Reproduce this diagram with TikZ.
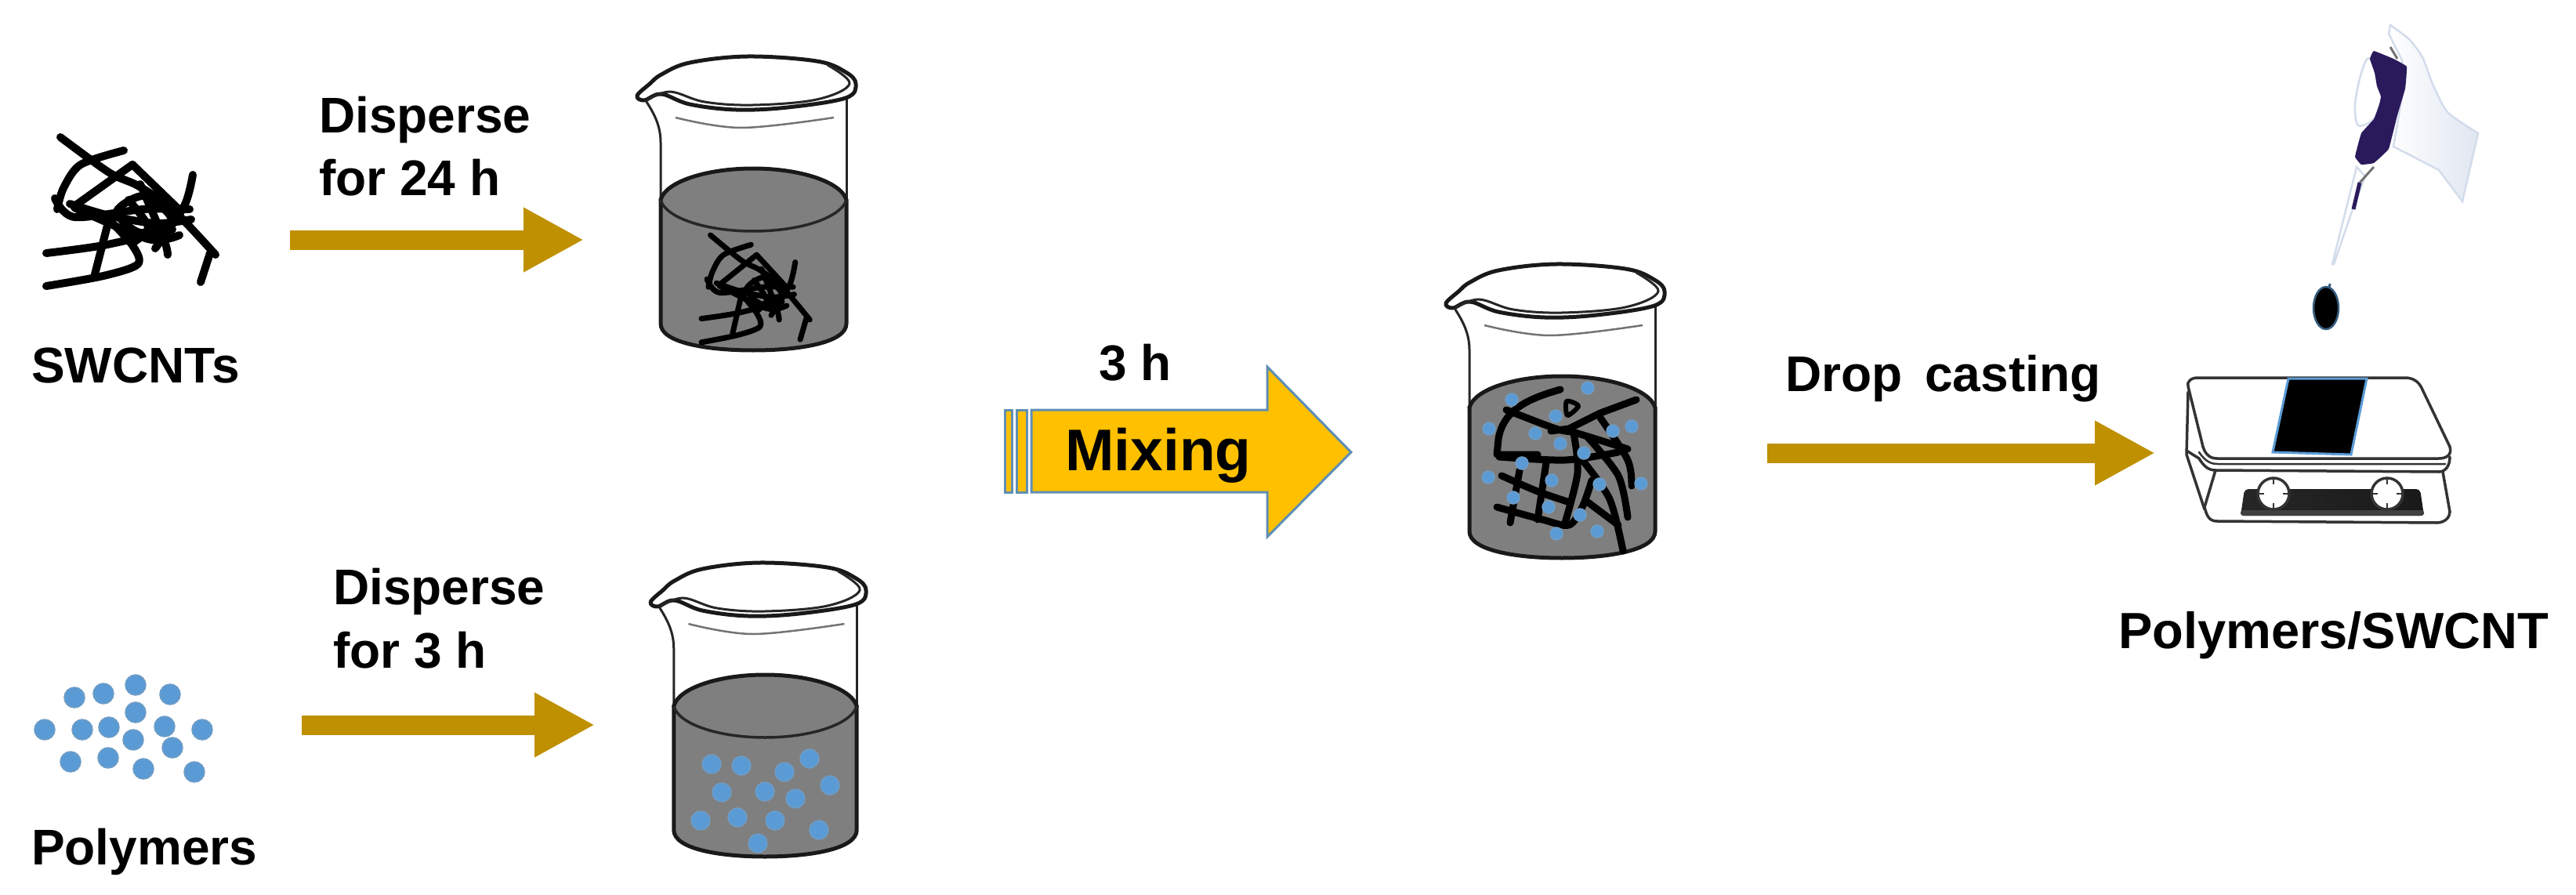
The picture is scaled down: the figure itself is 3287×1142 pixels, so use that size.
\documentclass[tikz,border=0pt]{standalone}
\usepackage{fontspec}
\setmainfont{Liberation Sans}
\usetikzlibrary{arrows.meta,positioning,calc}
\definecolor{flowgold}{HTML}{BF9000}
\definecolor{mixgold}{HTML}{FFC000}
\definecolor{mixedge}{HTML}{5F8FB4}
\definecolor{beadblue}{HTML}{5B9BD5}
\definecolor{beadedge}{HTML}{6F9CC4}
\definecolor{liquidgray}{HTML}{7F7F7F}
\definecolor{gripnavy}{HTML}{2A1A5C}
\definecolor{gloveedge}{HTML}{D3DCEB}
\tikzstyle{steptext}=[inner sep=0pt, anchor=base west, align=left, font=\bfseries\fontsize{64}{81}\selectfont]
\tikzstyle{mixtext}=[inner sep=0pt, anchor=base west, font=\bfseries\fontsize{75}{80}\selectfont]
\tikzstyle{flow}=[line width=25pt, flowgold, -{Triangle[length=77pt,width=77pt]}]
\tikzstyle{glass}=[line width=5pt, black!90, line cap=round, line join=round]
\tikzstyle{thinglass}=[line width=3pt, black!85, line cap=round]
\tikzstyle{tube}=[line width=9pt, black, line cap=round, line join=round]
\tikzstyle{bead}=[fill=beadblue, draw=beadedge, line width=1.5pt]
\tikzstyle{plate}=[line width=3.5pt, black!80, line cap=round, line join=round]
\tikzset{
  pics/beaker/.style={code={
    \fill[liquidgray] (-118,183) -- (-118,341) .. controls (-118,365) and (-60,375) .. (0,375)
      .. controls (60,375) and (119,365) .. (119,341) -- (119,183) -- cycle;
    \fill[liquidgray] (0,183) ellipse[x radius=118,y radius=40];
    \draw[thinglass] (-136,58) .. controls (-125,75) and (-118,90) .. (-118,110) -- (-118,183);
    \draw[thinglass] (119,45) -- (119,183);
    \draw[glass] (-118,183) .. controls (-112,160) and (-60,143) .. (0,143)
      .. controls (60,143) and (112,160) .. (119,183);
    \draw[glass] (-118,183) -- (-118,341) .. controls (-118,365) and (-60,375) .. (0,375)
      .. controls (60,375) and (119,365) .. (119,341) -- (119,183);
    \draw[glass,fill=white] plot[smooth cycle,tension=.6] coordinates {(-148,50) (-132,35) (-117,23) (-81,8) (-7,0) (81,6) (118,20) (131,35) (118,53) (44,65) (-22,68) (-81,61) (-117,48) (-139,56)};
    \draw[thinglass] plot[smooth,tension=.6] coordinates {(-136,56) (-106,45) (-62,58) (0,62) (81,55) (123,35) (95,11)};
    \draw[line width=2.5pt,black!55] plot[smooth,tension=.6] coordinates {(-99,78) (-15,91) (103,78)};
  }},
  pics/surface/.style={code={
    \draw[line width=3.5pt,black!85] (-118,183) .. controls (-112,206) and (-60,223) .. (0,223)
      .. controls (60,223) and (112,206) .. (119,183);
  }},
  pics/nanotubes/.style={code={
    \draw[tube,line width=#1] plot[smooth] coordinates {(18,0) (80,45) (117,62) (161,92) (216,150)};
    \draw[tube,line width=#1] plot[smooth] coordinates {(99,17) (44,35) (22,65) (14,92)};
    \draw[tube,line width=#1] plot[smooth] coordinates {(187,48) (176,88) (139,142)};
    \draw[tube,line width=#1] (110,35) -- (36,88);
    \draw[tube,line width=#1] (110,35) -- (169,92);
    \draw[tube,line width=#1] plot[smooth] coordinates {(11,78) (36,102) (124,92) (183,92)};
    \draw[tube,line width=#1] plot[smooth] coordinates {(0,148) (73,138) (161,118)};
    \draw[tube,line width=#1] plot[smooth] coordinates {(0,190) (73,177) (117,162) (110,138) (80,105)};
    \draw[tube,line width=#1] (62,175) -- (80,105);
    \draw[tube,line width=#1] (197,185) -- (209,148);
    \draw[tube,line width=#1] plot[smooth] coordinates {(36,90) (130,130) (170,125)};
    \draw[tube,line width=#1] plot[smooth] coordinates {(120,60) (150,130) (155,150)};
    \draw[tube,line width=#1] plot[smooth cycle] coordinates {(90,95) (125,75) (160,105) (120,122)};
    \draw[tube,line width=#1] plot[smooth] coordinates {(30,85) (80,100) (140,110) (185,105)};
    \draw[tube,line width=#1] plot[smooth] coordinates {(105,80) (130,115) (110,135)};
  }},
  pics/knob/.style={code={
    \draw[line width=3.5pt,black!80,fill=white] (0,0) circle (20);
    \foreach \ang in {0,90,180,270}
      \draw[line width=2.5pt,black!80] (\ang:20) -- (\ang:12);
  }}
}
\begin{document}
\begin{tikzpicture}[x=1pt,y=-1pt]
  \useasboundingbox (0,0) rectangle (3287,1142);

  % first row
  \pic (tubesA) at (59,175) {nanotubes=10pt};
  \node[steptext] (SWCNTs) at (40,488) {SWCNTs};
  \node[steptext] (DisperseA) at (407,250) {Disperse\\for 24 h};
  \coordinate (startA) at (370,306);
  \coordinate (endA) at (745,306);
  \draw[flow] (startA) -- (endA);
  \pic (beakerA) at (961,72) {beaker};
  \pic at (961,72) {surface};
  \pic[xscale=.64,yscale=.72] (tubesB) at (895,300) {nanotubes=7pt};

  % second row
  \foreach \px/\py in {95/890,132/885,173/874,217/886,173/909,57/931,105/931,139/928,210/927,258/931,170/944,220/954,90/972,138/967,183/981,248/985}
    \draw[bead] (\px,\py) circle (13);
  \node[steptext] (Polymers) at (40,1103) {Polymers};
  \node[steptext] (DisperseB) at (425,852) {Disperse\\for 3 h};
  \coordinate (startB) at (385,925);
  \coordinate (endB) at (759,925);
  \draw[flow] (startB) -- (endB);
  \pic[xscale=.985] (beakerB) at (976,718) {beaker};
  \pic[xscale=.985] at (976,718) {surface};
  \foreach \px/\py in {908/975,946/977,1033/968,1001/985,1059/1002,921/1011,976/1010,1015/1019,894/1047,941/1043,989/1047,1045/1059,967/1076}
    \draw[bead] (\px,\py) circle (12);

  % mixing
  \draw[fill=mixgold,draw=mixedge,line width=3pt,line join=miter]
    (1316,523) -- (1617,523) -- (1617,468) -- (1724,577) -- (1617,685) -- (1617,628) -- (1316,628) -- cycle;
  \draw[fill=mixgold,draw=mixedge,line width=3pt] (1297,523) rectangle (1310,628);
  \draw[fill=mixgold,draw=mixedge,line width=3pt] (1282,523) rectangle (1291,628);
  \node[mixtext] (Mixing) at (1359,600) {Mixing};
  \node[steptext] (ThreeH) at (1402,485) {3 h};

  \pic (beakerC) at (1993,337) {beaker};
  \draw[tube] (1991,497) .. controls (1945,510) and (1918,525) .. (1912,560) -- (1910,580) -- (1962,580);
  \draw[tube] (2088,510) -- (2042,527) -- (2002,547) -- (1979,550);
  \draw[tube] plot[smooth] coordinates {(1922,523) (1985,547) (2013,553) (2077,573)};
  \draw[tube] plot[smooth] coordinates {(1913,583) (1997,587) (2065,577)};
  \draw[tube] plot[smooth] coordinates {(1916,607) (1962,627) (2000,640)};
  \draw[tube] plot[smooth] coordinates {(1910,647) (1968,663) (2002,670) (2019,647) (2031,613)};
  \draw[tube] (1939,600) -- (1927,667);
  \draw[tube] (1973,590) -- (1962,663);
  \draw[tube] plot[smooth] coordinates {(2008,553) (2013,603) (1997,667)};
  \draw[tube] plot[smooth] coordinates {(2019,587) (2054,637) (2071,703)};
  \draw[tube] plot[smooth] coordinates {(2042,533) (2077,587) (2082,620)};
  \draw[tube] plot[smooth] coordinates {(2025,557) (2065,607) (2077,660)};
  \draw[tube,line width=6pt] plot[smooth cycle] coordinates {(1999,512) (2000,530) (2014,518)};
  \draw[tube] (2025,640) -- (2065,670);
  \foreach \px/\py in {1929/510,2026/495,1985/531,1900/547,1959/553,2058/550,2082/544,1991/566,2021/578,1942/591,1899/609,1980/613,2041/618,2094/617,1931/635,1976/647,2016/657,1986/681,2038/678}
    \draw[bead] (\px,\py) circle (8);

  % casting
  \coordinate (startC) at (2255,578);
  \coordinate (endC) at (2750,578);
  \draw[flow] (startC) -- (endC);
  \node[steptext] (Casting) at (2278,499) {Drop\hspace{11pt} casting};

  % hot plate
  \draw[plate] (2792,500) -- (2790,580) -- (2813,650);
  \draw[plate] (2827,600) -- (2813,647) .. controls (2816,660) and (2820,665) .. (2829,665)
    -- (3109,667) .. controls (3120,667) and (3126,660) .. (3126,653) -- (3117,602);
  \draw[plate] (2790,575) -- (2806,585) .. controls (2812,595) and (2818,600) .. (2827,600)
    -- (3112,602) .. controls (3120,602) and (3126,595) .. (3126,583);
  \draw[plate,fill=white] (2804,482) -- (3069,482) .. controls (3080,482) and (3086,488) .. (3089,493)
    -- (3126,570) .. controls (3129,580) and (3122,585) .. (3112,585) -- (2829,585)
    .. controls (2820,585) and (2814,580) .. (2811,570) -- (2792,493) .. controls (2790,487) and (2796,482) .. (2804,482) -- cycle;
  \draw[plate,line width=2.5pt] (2806,577) .. controls (2815,590) and (2822,592) .. (2830,592) -- (3120,592);
  \draw[fill=black,draw=beadblue,line width=3pt] (2920,483) -- (3020,483) -- (3000,580) -- (2900,577) -- cycle;
  \shade[left color=black!85,middle color=white,right color=black!90,rounded corners=5pt]
    (2864,624) -- (3088,624) -- (3093,658) -- (2859,658) -- cycle;
  \fill[black!75,rounded corners=3pt] (2859,651) rectangle (3093,658);
  \pic (knobA) at (2901,630) {knob};
  \pic (knobB) at (3046,630) {knob};
  \node[steptext,font=\bfseries\fontsize{65}{80}\selectfont] (Film) at (2703,827) {Polymers/SWCNT};

  % pipette and glove
  \draw[fill=white,draw=gloveedge,line width=2.5pt] (3007,213) -- (3018,225) -- (3001,270) -- (2978,337) -- (2976,337) -- cycle;
  \draw[line width=5pt,gripnavy] (3011,233) -- (3003,267);
  \draw[line width=3pt,black!55] (3029,213) -- (3011,233);
  \shade[left color=white,right color=gloveedge!70,draw=gloveedge,line width=2.5pt]
    plot[smooth,tension=.4] coordinates {(3050,32) (3074,50) (3091,73) (3104,107) (3123,143) (3162,170)}
    -- (3142,257) -- (3112,217) -- (3054,187) -- (3069,100) -- (3065,77) -- (3048,43) -- cycle;
  \draw[fill=white,draw=gloveedge,line width=2.5pt] plot[smooth cycle,tension=.5] coordinates {(3024,75) (3013,93) (3005,133) (3009,160) (3029,152) (3043,123)};
  \draw[line width=3pt,black!55] (3050,60) -- (3059,75);
  \fill[gripnavy] plot[smooth cycle,tension=.15] coordinates {(3029,65) (3054,75) (3071,85) (3069,113) (3059,147) (3048,190) (3029,208) (3013,210) (3005,200) (3013,170) (3029,152) (3036,133) (3038,123) (3033,110) (3030,93) (3024,75)};
  \fill[black,draw=beadblue!60!black,line width=2.5pt] (2968,393) ellipse[x radius=16,y radius=27];
  \draw[line width=3pt,beadblue!60!black] (2973,362) -- (2972,368);
\end{tikzpicture}
\end{document}
